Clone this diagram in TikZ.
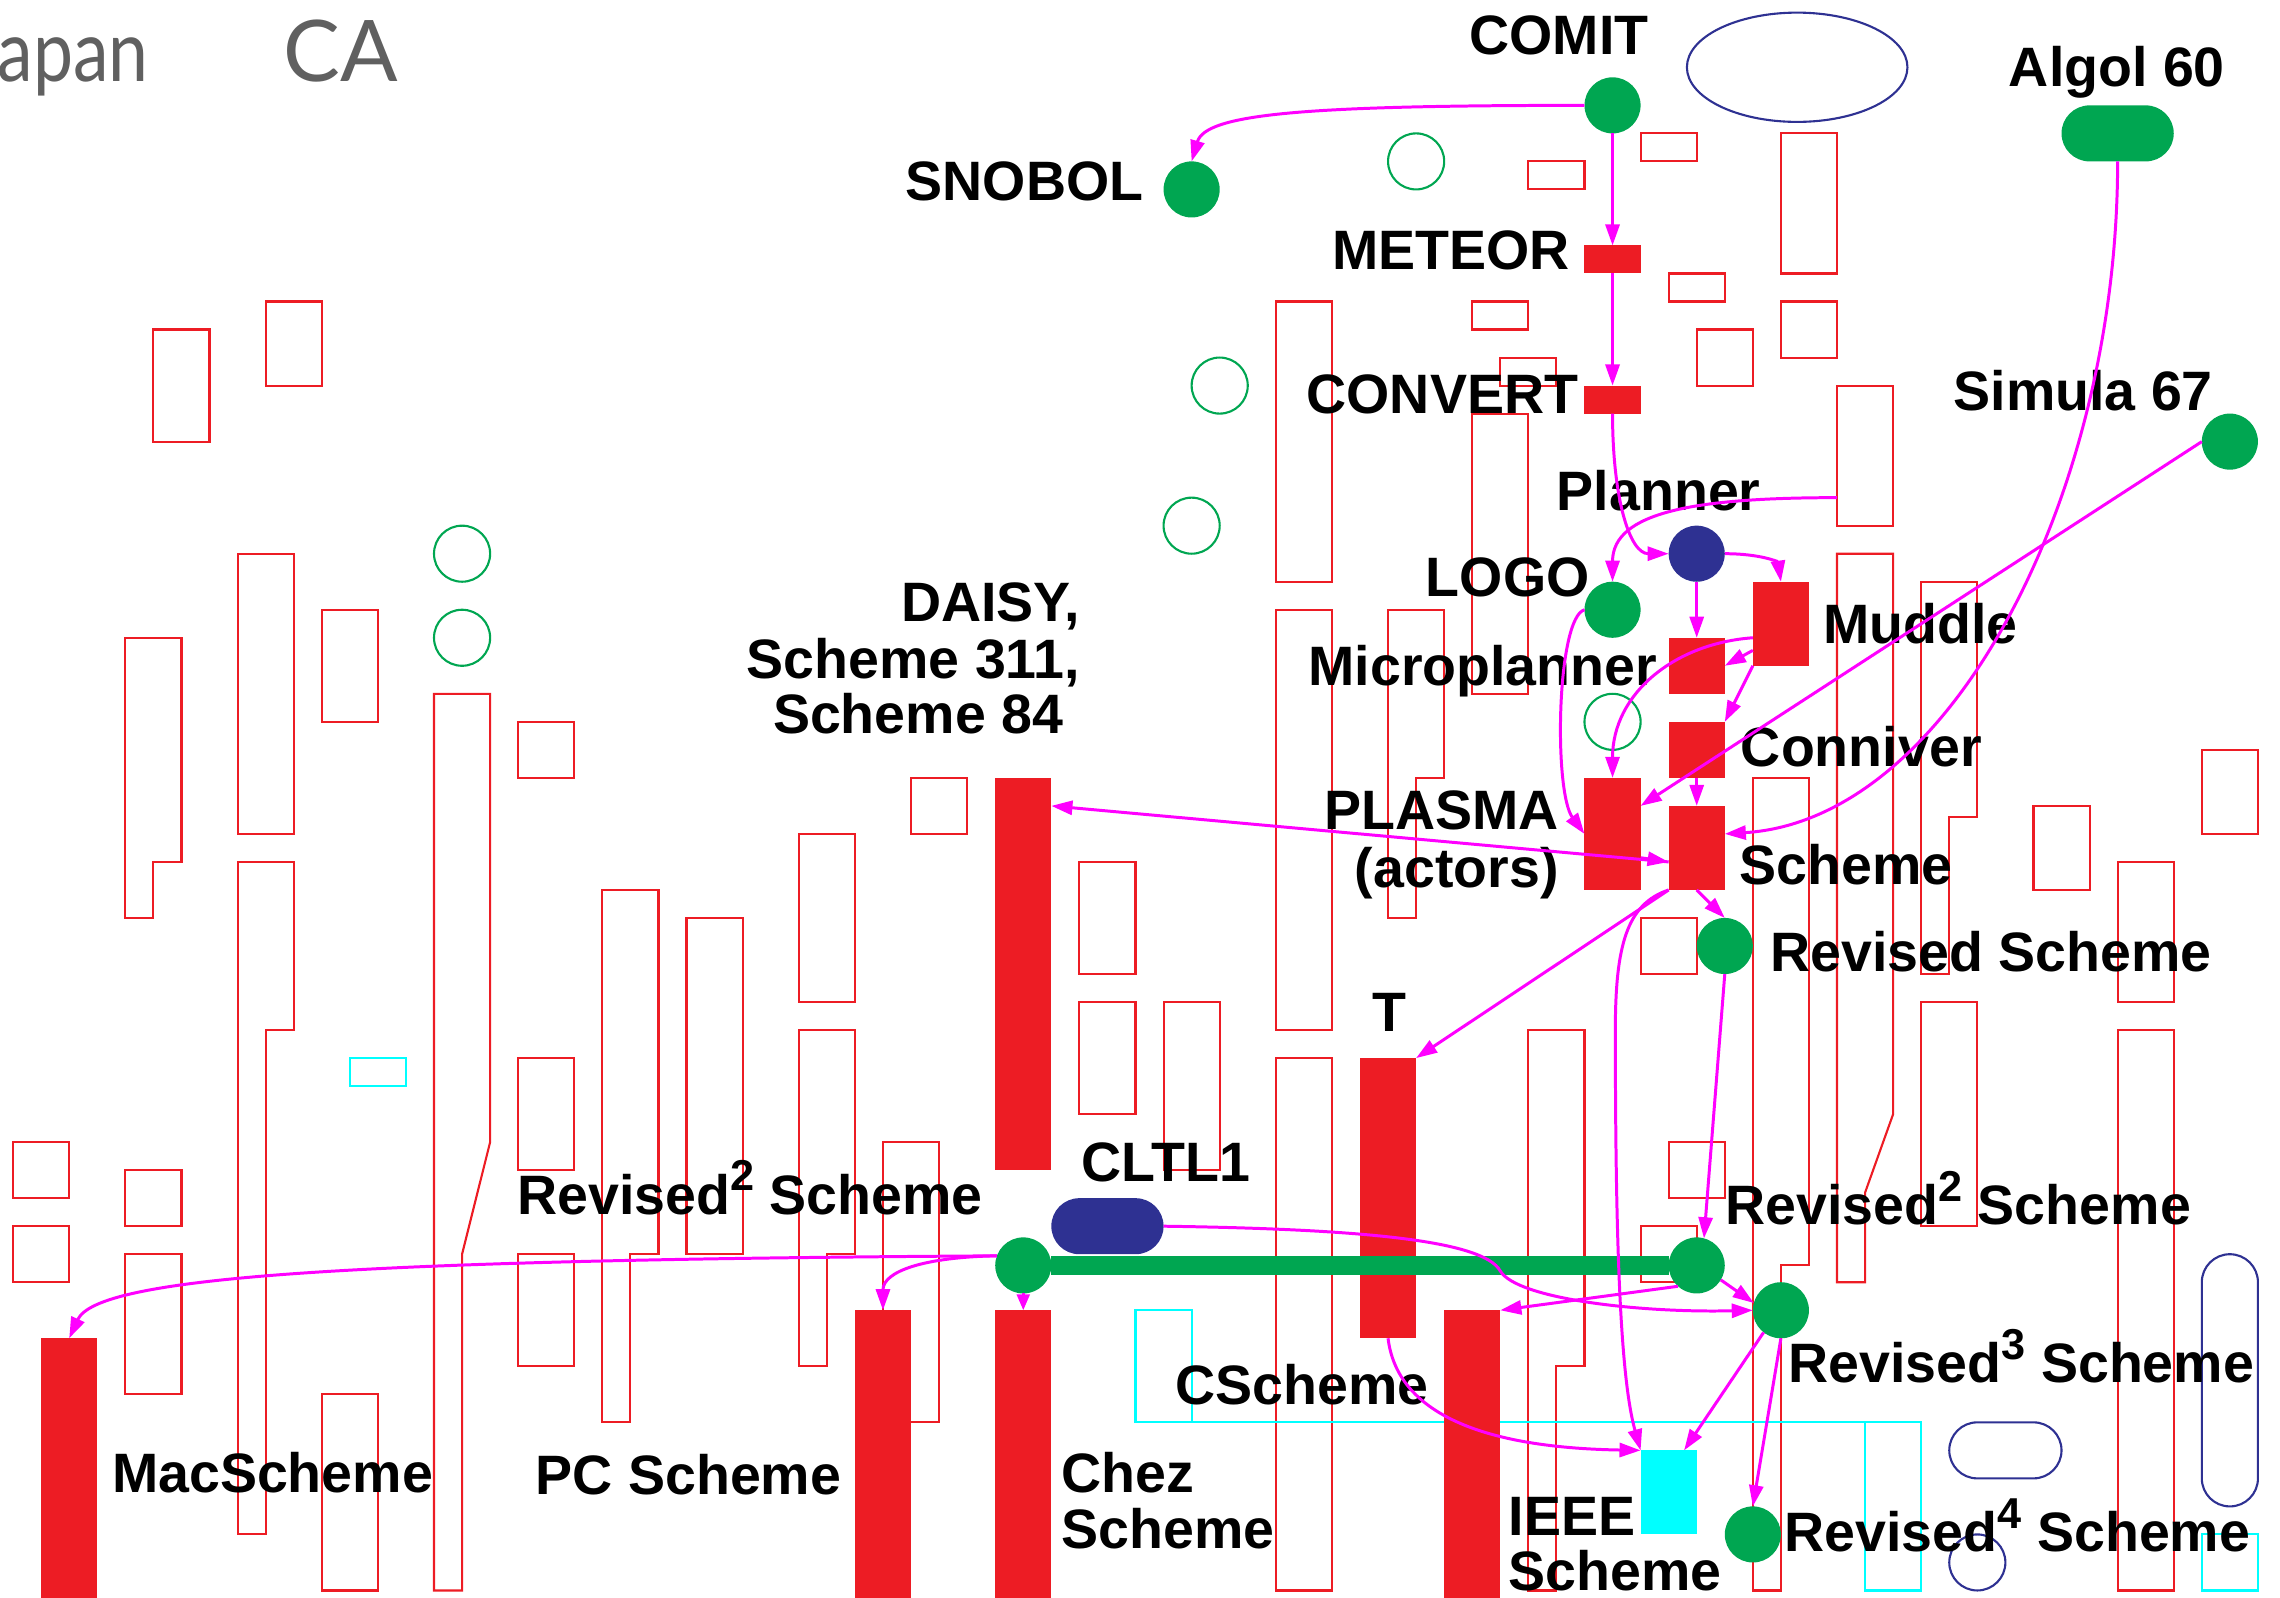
\documentclass[tikz,border=0pt]{standalone}
\usepackage{fontspec}
\setmainfont{Liberation Sans}
\newfontfamily\gillfont{Lato}
\newfontfamily\gillnarrow{Lato}[FakeStretch=0.84]
\usetikzlibrary{arrows.meta,calc,fit}
\definecolor{gN}{RGB}{0,166,81}
\definecolor{rN}{RGB}{237,28,36}
\definecolor{bN}{RGB}{46,49,146}
\definecolor{mN}{RGB}{255,0,255}
\definecolor{cN}{RGB}{0,255,255}
\definecolor{grayT}{RGB}{96,96,96}
\newcommand\supnum[1]{\raisebox{0.42em}{\fontsize{12.3pt}{12pt}\selectfont #1}}
\begin{document}
\begin{tikzpicture}[x=0.2806cm,y=-0.2802cm,
  ghost/.style={draw=rN,line width=0.6pt},
  ghostg/.style={draw=gN,line width=0.6pt},
  ghostb/.style={draw=bN,line width=0.6pt},
  ghostc/.style={draw=cN,line width=0.6pt},
  rbox/.style={fill=rN,inner sep=0pt,outer sep=0pt},
  cbox/.style={fill=cN,inner sep=0pt,outer sep=0pt},
  gdot/.style={circle,fill=gN,inner sep=0pt,outer sep=0pt,minimum size=0.561cm},
  bdot/.style={circle,fill=bN,inner sep=0pt,outer sep=0pt,minimum size=0.561cm},
  gpill/.style={fill=gN,rounded corners=0.28cm,inner sep=0pt,outer sep=0pt},
  bpill/.style={fill=bN,rounded corners=0.28cm,inner sep=0pt,outer sep=0pt},
  lbl/.style={font=\fontsize{15.8pt}{16pt}\selectfont\bfseries,inner sep=0pt,text=black},
  biglbl/.style={font=\gillfont\fontsize{24.2pt}{25pt}\selectfont,inner sep=0pt,text=grayT},
  biglbln/.style={font=\gillnarrow\fontsize{24.2pt}{25pt}\selectfont,inner sep=0pt,text=grayT},
  edge/.style={draw=mN,line width=0.85pt,-{Triangle[length=6pt,width=4pt]}},
  shortedge/.style={draw=mN,line width=0.85pt,-{Triangle[length=4.5pt,width=3.6pt]}},
  bar/.style={draw=gN,line width=5.5pt}
]
\useasboundingbox (-0.46686,-0.76017) rectangle (80.787,56.235);
\clip (-0.46686,-0.76017) rectangle (80.787,56.235);

% ---------- background outlines ----------
\draw[ghost] (0,40) rectangle (2,42);
\draw[ghost] (0,43) rectangle (2,45);
\draw[ghost] (4,22) -- (6,22) -- (6,30) -- (5,30) -- (5,32) -- (4,32) -- cycle;
\draw[ghost] (4,41) rectangle (6,43);
\draw[ghost] (4,44) rectangle (6,49);
\draw[ghost] (5,11) rectangle (7,15);
\draw[ghost] (9,10) rectangle (11,13);
\draw[ghost] (8,19) rectangle (10,29);
\draw[ghost] (8,30) -- (10,30) -- (10,36) -- (9,36) -- (9,54) -- (8,54) -- cycle;
\draw[ghost] (11,21) rectangle (13,25);
\draw[ghost] (11,49) rectangle (13,56);
\draw[ghostg] (16,19) circle [radius=1];
\draw[ghostg] (16,22) circle [radius=1];
\draw[ghost] (15,24) -- (17,24) -- (17,40) -- (16,44) -- (16,56) -- (15,56) -- cycle;
\draw[ghost] (18,25) rectangle (20,27);
\draw[ghost] (18,37) rectangle (20,41);
\draw[ghost] (18,44) rectangle (20,48);
\draw[ghost] (21,31) -- (23,31) -- (23,44) -- (22,44) -- (22,50) -- (21,50) -- cycle;
\draw[ghost] (24,32) rectangle (26,44);
\draw[ghostc] (12,37) rectangle (14,38);
\draw[ghost] (28,29) rectangle (30,35);
\draw[ghost] (28,36) -- (30,36) -- (30,44) -- (29,44) -- (29,48) -- (28,48) -- cycle;
\draw[ghost] (31,40) rectangle (33,50);
\draw[ghost] (32,27) rectangle (34,29);
\draw[ghost] (38,30) rectangle (40,34);
\draw[ghost] (38,35) rectangle (40,39);
\draw[ghost] (41,35) rectangle (43,41);
\draw[ghostg] (43,13) circle [radius=1];
\draw[ghostg] (42,18) circle [radius=1];
\draw[ghostg] (50,5) circle [radius=1];
\draw[ghostg] (57,25) circle [radius=1];
\draw[ghost] (45,10) rectangle (47,20);
\draw[ghost] (45,21) rectangle (47,36);
\draw[ghost] (45,37) rectangle (47,56);
\draw[ghost] (49,21) -- (51,21) -- (51,27) -- (50,27) -- (50,32) -- (49,32) -- cycle;
\draw[ghost] (52,14) rectangle (54,24);
\draw[ghost] (54,5) rectangle (56,6);
\draw[ghost] (52,10) rectangle (54,11);
\draw[ghost] (53,12) rectangle (55,13);
\draw[ghost] (58,4) rectangle (60,5);
\draw[ghost] (59,9) rectangle (61,10);
\draw[ghost] (60,11) rectangle (62,13);
\draw[ghost] (63,4) rectangle (65,9);
\draw[ghost] (63,10) rectangle (65,12);
\draw[ghost] (65,13) rectangle (67,18);
\draw[ghost] (65,19) -- (67,19) -- (67,39) -- (66,41.8) -- (66,45) -- (65,45) -- cycle;
\draw[ghost] (68,20) -- (70,20) -- (70,28.4) -- (69,28.4) -- (69,34) -- (68,34) -- cycle;
\draw[ghost] (62,27) -- (64,27) -- (64,44.4) -- (63,44.4) -- (63,56) -- (62,56) -- cycle;
\draw[ghost] (72,28) rectangle (74,31);
\draw[ghost] (78,26) rectangle (80,29);
\draw[ghost] (75,30) rectangle (77,35);
\draw[ghost] (75,36) rectangle (77,56);
\draw[ghost] (68,35) rectangle (70,43);
\draw[ghost] (58,32) rectangle (60,34);
\draw[ghost] (59,40) rectangle (61,42);
\draw[ghost] (58,43) rectangle (60,45);
\draw[ghost] (54,36) -- (56,36) -- (56,48) -- (55,48) -- (55,56) -- (54,56) -- cycle;
\draw[ghostb] (63.58,1.64) ellipse [x radius=3.93, y radius=1.95];
\draw[ghostb,rounded corners=0.28cm] (78,44) rectangle (80,53);
\draw[ghostb,rounded corners=0.28cm] (69,50) rectangle (73,52);
\draw[ghostb] (70,55) circle [radius=1];
\draw[ghostc] (40,46) rectangle (42,50);
\draw[ghostc] (42,50) -- (66,50);
\draw[ghostc] (66,50) rectangle (68,56);
\draw[ghostc] (78,54) rectangle (80,56);

% ---------- nodes ----------
\node[gdot] (comit) at (57,3) {};
\node[gdot] (snobol) at (42,6) {};
\node[rbox, fit={(56,8)(58,9)}] (meteor) {};
\node[rbox, fit={(56,13)(58,14)}] (convert) {};
\node[bdot] (planner) at (60,19) {};
\node[gdot] (logo) at (57,21) {};
\node[rbox, fit={(62,20)(64,23)}] (muddle) {};
\node[rbox, fit={(59,22)(61,24)}] (micro) {};
\node[rbox, fit={(59,25)(61,27)}] (conniver) {};
\node[rbox, fit={(56,27)(58,31)}] (plasma) {};
\node[rbox, fit={(59,28)(61,31)}] (scheme) {};
\node[gdot] (revised) at (61,33) {};
\node[rbox, fit={(35,27)(37,41)}] (daisy) {};
\node[rbox, fit={(48,37)(50,47)}] (t) {};
\node[bpill, fit={(37,42)(41,44)}] (cltl) {};
\node[gdot] (r2l) at (36,44.4) {};
\node[gdot] (r2r) at (60,44.4) {};
\draw[bar] (r2l.east) -- (r2r.west);
\node[gdot] (r3) at (63,46) {};
\node[gdot] (r4) at (62,54) {};
\node[rbox, fit={(1,47)(3,57)}] (mac) {};
\node[rbox, fit={(30,46)(32,57)}] (pc) {};
\node[rbox, fit={(35,46)(37,57)}] (chez) {};
\node[rbox, fit={(51,46)(53,57)}] (cscheme) {};
\node[cbox, fit={(58,51)(60,54)}] (ieee) {};
\node[gpill, fit={(73,3)(77,5)}] (algol) {};
\node[gdot] (simula) at (79,15) {};
\coordinate (hid) at (65,17);

% ---------- labels ----------
\node[biglbln, anchor=base east] (ljapan) at (4.85,2.145) {Japan};
\node[biglbl, anchor=base west] (lca) at (9.62,2.145) {CA};
\node[lbl, anchor=base] (lcomit) at (55.09,1.17) {COMIT};
\node[lbl, anchor=base east] (lsnobol) at (40.3,6.41) {SNOBOL};
\node[lbl, anchor=base east] (lmeteor) at (55.5,8.86) {METEOR};
\node[lbl, anchor=base east] (lconvert) at (55.8,14.01) {CONVERT};
\node[lbl, anchor=base east] (lplanner) at (62.3,17.47) {Planner};
\node[lbl, anchor=base east] (llogo) at (56.2,20.54) {LOGO};
\node[lbl, anchor=base west] (lmuddle) at (64.48,22.19) {Muddle};
\node[lbl, anchor=base west] (lmicro) at (46.14,23.72) {Microplanner};
\node[lbl, anchor=base west] (lconniver) at (61.55,26.59) {Conniver};
\node[lbl, anchor=base east] (lplasmaA) at (55.1,28.86) {PLASMA};
\node[lbl, anchor=base east] (lplasmaB) at (55.1,30.93) {(actors)};
\node[lbl, anchor=base east] (ldaisyA) at (38.05,21.43) {DAISY,};
\node[lbl, anchor=base east] (ldaisyB) at (38.05,23.47) {Scheme 311,};
\node[lbl, anchor=base east] (ldaisyC) at (37.45,25.43) {Scheme 84};
\node[lbl, anchor=base west] (lscheme) at (61.5,30.82) {Scheme};
\node[lbl, anchor=base west] (lrevised) at (62.6,33.92) {Revised Scheme};
\node[lbl, anchor=base] (lt) at (49.06,36.04) {T};
\node[lbl, anchor=base] (lcltl) at (41.09,41.42) {CLTL1};
\node[lbl, anchor=base west] (lr2l) at (17.94,42.57) {Revised\supnum{2} Scheme};
\node[lbl, anchor=base west] (lr2r) at (61.0,42.95) {Revised\supnum{2} Scheme};
\node[lbl, anchor=base west] (lr3) at (63.25,48.59) {Revised\supnum{3} Scheme};
\node[lbl, anchor=base west] (lr4) at (63.11,54.61) {Revised\supnum{4} Scheme};
\node[lbl, anchor=base west] (lmac) at (3.5,52.52) {MacScheme};
\node[lbl, anchor=base west] (lpc) at (18.6,52.58) {PC Scheme};
\node[lbl, anchor=base west] (lchezA) at (37.33,52.52) {Chez};
\node[lbl, anchor=base west] (lchezB) at (37.33,54.51) {Scheme};
\node[lbl, anchor=base west] (lcscheme) at (41.4,49.37) {CScheme};
\node[lbl, anchor=base west] (lieeeA) at (53.28,54.04) {IEEE};
\node[lbl, anchor=base west] (lieeeB) at (53.28,56.0) {Scheme};
\node[lbl, anchor=base west] (lalgol) at (71.1,2.31) {Algol 60};
\node[lbl, anchor=base west] (lsimula) at (69.13,13.9) {Simula 67};

% ---------- connectors ----------
\draw[edge] (comit.west) .. controls (46,3.0) and (42.5,3.3) .. (snobol.north);
\draw[edge] (comit.south) -- (meteor.north);
\draw[edge] (meteor.south) -- (convert.north);
\draw[edge] (convert.south) .. controls (57,17) and (57.6,19) .. (planner.west);
\draw[edge] (hid) .. controls (60,17) and (57,17.5) .. (logo.north);
\draw[edge] (planner.south) -- (micro.north);
\draw[edge] (planner.east) .. controls (62.3,19) and (62.9,19.3) .. (muddle.north);
\draw[edge] ($(muddle.west)+(0,0.95)$) -- (micro.east);
\draw[edge] (muddle.south west) -- (conniver.north east);
\draw[edge] ($(muddle.west)+(0,0.5)$) .. controls (59.2,22.2) and (57,24) .. (plasma.north);
\draw[edge] (conniver.south) -- (scheme.north);
\draw[edge] (logo.west) .. controls (55,21.3) and (54.9,27.5) .. (plasma.west);
\draw[edge] ($(scheme.west)+(0,0.5)$) -- ($(daisy.north east)+(0,1)$);
\draw[edge] ($(plasma.east)+(0,0.85)$) -- ($(scheme.west)+(0,0.5)$);
\draw[edge] (simula.west) -- ($(plasma.north east)+(0,1)$);
\draw[edge] (algol.south) .. controls (75,17) and (69,28.5) .. ($(scheme.east)+(0,-0.5)$);
\draw[edge] (scheme.south) -- (revised.north);
\draw[edge] (scheme.south west) -- (t.north east);
\draw[edge] (scheme.south west) .. controls (57.5,31.5) and (57.1,33) .. (57.1,36)
  .. controls (57.1,44) and (57.3,48.5) .. (ieee.north west);
\draw[edge] (revised.south) -- (r2r.75);
\draw[edge] (r2l.160) .. controls (12,44.2) and (3,44.8) .. (mac.north);
\draw[edge] (r2l.160) .. controls (32.5,44.1) and (31,44.6) .. (pc.north);
\draw[shortedge] (r2l.south) -- (chez.north);
\draw[edge] (r2r.228) -- (cscheme.north east);
\draw[edge] (cltl.east) .. controls (48,43.1) and (52.4,43.5) .. (53,44.6)
  .. controls (53.6,45.6) and (58,46.1) .. (r3.west);
\draw[edge] (r2r.-31) -- (r3.165);
\draw[edge] (t.south) .. controls (49.3,49.5) and (52,50.9) .. (ieee.north west);
\draw[edge] (r3.232) -- ($(ieee.north)+(0.55,0)$);
\draw[edge] (r3.south) -- (r4.north);
\end{tikzpicture}
\end{document}
